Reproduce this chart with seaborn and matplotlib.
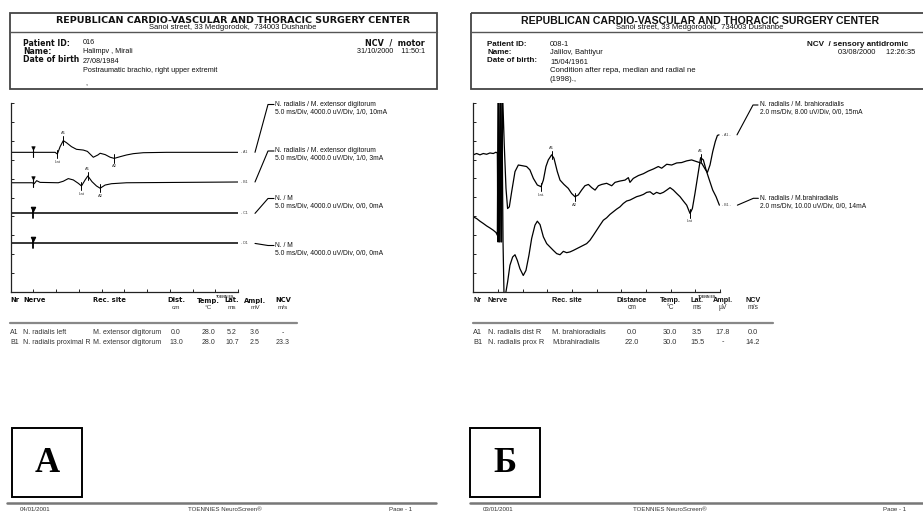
import numpy as np
import matplotlib
matplotlib.use("Agg")
from matplotlib import pyplot as plt
from matplotlib.patches import Rectangle
import seaborn as sns

# ---------------- Panel A: motor NCV (5 ms/Div), amplitude in screen divisions
a_a1_ms = [0, 9.8, 10.3, 10.9, 11.6, 12.3, 13.4, 14.5, 16.0, 16.9, 18.2, 19.2, 19.7,
           20.8, 21.9, 22.8, 24.1, 25.5, 27.0, 29.2, 34.3, 50]
a_a1_dv = [7.39, 7.39, 7.30, 7.69, 8.01, 7.90, 7.69, 7.55, 7.51, 7.44, 7.13, 7.25, 7.34,
           7.27, 7.13, 7.07, 7.16, 7.25, 7.32, 7.37, 7.39, 7.39]
a_b1_ms = [0, 4.8, 5.2, 5.75, 6.5, 10.5, 11.6, 12.7, 13.8, 14.9, 15.6, 16.4, 17.0, 17.9,
           18.9, 19.7, 20.8, 22.2, 25.5, 50]
a_b1_dv = [5.78, 5.78, 5.73, 5.89, 5.80, 5.78, 5.86, 6.0, 5.93, 5.75, 5.61, 5.93, 6.14, 5.84,
           5.61, 5.49, 5.66, 5.73, 5.78, 5.82]
a_c1_ms = [0, 50]
a_c1_dv = [4.16, 4.16]
a_d1_ms = [0, 50]
a_d1_dv = [2.57, 2.57]
a_stim_ms = 5.0
a_mark_ms = [10.3, 11.6, 22.8, 15.6, 17.0, 19.7]
a_mark_dv = [7.30, 8.01, 7.07, 5.61, 6.14, 5.49]
a_mark_lbl = ["Lat", "A1", "A2", "Lat", "A1", "A2"]
a_names = ["A1", "B1", "C1", "D1"]
a_info1 = ["N. radialis / M. extensor digitorum", "N. radialis / M. extensor digitorum",
           "N. / M", "N. / M"]
a_info2 = ["5.0 ms/Div, 4000.0 uV/Div, 1/0, 10mA", "5.0 ms/Div, 4000.0 uV/Div, 1/0, 3mA",
           "5.0 ms/Div, 4000.0 uV/Div, 0/0, 0mA", "5.0 ms/Div, 4000.0 uV/Div, 0/0, 0mA"]
a_cols = ["Nr", "Nerve", "Rec. site", "Dist.", "Temp.", "Lat.", "Ampl.", "NCV"]
a_units = ["", "", "", "cm", "°C", "ms", "mV", "m/s"]
a_rows = [["A1", "N. radialis left", "M. extensor digitorum", "0.0", "28.0", "5.2", "3.6", "-"],
          ["B1", "N. radialis proximal R", "M. extensor digitorum", "13.0", "28.0", "10.7", "2.5", "23.3"]]

# ---------------- Panel B: sensory antidromic NCV (2 ms/Div)
b_a1_ms = [0, 0.27, 0.54, 0.81, 1.08, 1.35, 1.62, 1.84, 1.95, 2.0, 2.05, 2.14, 2.22, 2.30, 2.38,
           2.51, 2.65, 2.78, 2.92, 3.11, 3.38, 3.65, 3.92, 4.32, 4.59, 4.87, 5.19, 5.49, 5.68,
           5.89, 6.08, 6.35, 6.54, 6.81, 7.03, 7.35, 7.70, 7.97, 8.24, 8.51, 8.78, 9.05, 9.33,
           9.6, 9.87, 10.14, 10.41, 10.81, 11.22, 11.49, 11.89, 12.3, 12.57, 12.7, 12.97, 13.38,
           13.79, 14.19, 14.6, 15.0, 15.27, 15.68, 16.08, 16.49, 16.89, 17.3, 17.7, 18.11, 18.52,
           18.79, 18.98, 19.19, 19.41, 19.62, 19.79, 19.92]
b_a1_dv = [7.25, 7.32, 7.25, 7.32, 7.28, 7.35, 7.32, 7.39, 7.34, 2.63, 10.4, 2.63, 10.4, 2.63, 10.4,
           7.78, 5.47, 4.40, 4.49, 5.29, 6.36, 6.71, 6.68, 6.63, 6.45, 6.0, 5.65, 5.56, 5.91,
           6.63, 6.98, 7.25, 7.07, 6.36, 5.91, 5.68, 5.47, 5.20, 5.03, 5.12, 5.38, 5.61, 5.68,
           5.51, 5.38, 5.61, 5.68, 5.74, 5.61, 5.79, 5.86, 5.91, 6.04, 5.79, 6.0, 6.15,
           6.25, 6.39, 6.50, 6.63, 6.54, 6.75, 6.71, 6.82, 6.84, 6.93, 6.98, 6.89, 6.80,
           6.50, 6.32, 6.71, 7.42, 7.96, 8.28, 8.31]
b_b1_ms = [0, 0.27, 0.54, 0.81, 1.08, 1.35, 1.62, 1.84, 1.95, 2.0, 2.08, 2.16, 2.24, 2.32, 2.41,
           2.49, 2.62, 2.78, 2.97, 3.19, 3.38, 3.57, 3.78, 4.05, 4.27, 4.51, 4.73, 5.0, 5.19,
           5.41, 5.68, 5.95, 6.22, 6.49, 6.76, 7.03, 7.30, 7.57, 7.84, 8.11, 8.38, 8.65, 8.92,
           9.19, 9.46, 9.73, 10.0, 10.27, 10.54, 10.81, 11.08, 11.35, 11.62, 11.89, 12.16, 12.43,
           12.7, 12.97, 13.24, 13.51, 13.79, 14.06, 14.33, 14.6, 14.86, 15.14, 15.41, 15.68,
           15.95, 16.22, 16.49, 16.76, 17.03, 17.3, 17.57, 17.76, 17.97, 18.25, 18.43, 18.65,
           18.87, 19.14, 19.41, 19.68, 19.95]
b_b1_dv = [3.96, 3.87, 3.73, 3.61, 3.48, 3.37, 3.25, 3.13, 2.98, 10.1, 2.63, 10.1, 2.63, 10.1, 2.63,
           -0.2, -0.12, 0.50, 1.39, 1.83, 1.95, 1.65, 1.21, 0.85, 1.12, 1.92, 2.81, 3.52, 3.73,
           3.55, 2.90, 2.54, 2.36, 2.18, 2.01, 1.95, 2.13, 2.06, 2.10, 2.18, 2.27, 2.36, 2.45,
           2.54, 2.72, 2.98, 3.25, 3.52, 3.78, 3.91, 4.09, 4.23, 4.37, 4.49, 4.67, 4.80,
           4.85, 4.94, 5.03, 5.08, 5.15, 5.26, 5.29, 5.15, 5.26, 5.19, 5.26, 5.38,
           5.51, 5.38, 5.20, 5.03, 4.80, 4.58, 4.14, 4.40, 5.20, 6.36, 7.10, 6.98,
           6.45, 5.91, 5.38, 5.03, 4.58]
b_mark_ms = [5.49, 6.35, 8.24, 17.57, 18.43]
b_mark_dv = [5.56, 7.25, 5.03, 4.14, 7.10]
b_mark_lbl = ["Lat.", "A1", "A2", "Lat", "A1"]
b_names = ["A1", "B1"]
b_info1 = ["N. radialis / M. brahioradialis", "N. radialis / M.brahiradialis"]
b_info2 = ["2.0 ms/Div, 8.00 uV/Div, 0/0, 15mA", "2.0 ms/Div, 10.00 uV/Div, 0/0, 14mA"]
b_cols = ["Nr", "Nerve", "Rec. site", "Distance", "Temp.", "Lat.", "Ampl.", "NCV"]
b_units = ["", "", "", "cm", "°C", "ms", "µV", "m/s"]
b_rows = [["A1", "N. radialis dist R", "M. brahioradialis", "0.0", "30.0", "3.5", "17.8", "0.0"],
          ["B1", "N. radialis prox R", "M.brahiradialis", "22.0", "30.0", "15.5", "-", "14.2"]]

sns.set_style("white")
plt.rcParams["font.family"] = ["Liberation Sans", "DejaVu Sans"]

W, H = 923, 511
fig = plt.figure(figsize=(W / 100, H / 100), dpi=100)
ov = fig.add_axes([0, 0, 1, 1], zorder=0)
ov.set_xlim(0, W)
ov.set_ylim(H, 0)
ov.axis("off")
ov.patch.set_alpha(0)

SP = ["DejaVu Sans"]  # wider bold face for the letter-spaced report A


def txt(x, y, s, size=5.0, bold=False, ha="left", fam=None, color="#111"):
    ov.text(x, y, s, fontsize=size, fontweight="bold" if bold else "normal", ha=ha,
            va="center", color=color, family=fam if fam else ["Liberation Sans", "DejaVu Sans"])


def trace_axes(left, right, top, bottom, xmax, step):
    ax = fig.add_axes([left / W, 1 - bottom / H, (right - left) / W, (bottom - top) / H], zorder=2)
    ax.patch.set_alpha(0)
    ax.set_xlim(0, xmax)
    ax.set_ylim(0, 10)
    ax.set_xticks(np.arange(0, xmax + 0.01, step))
    ax.set_yticks(np.arange(0, 11, 1))
    ax.tick_params(direction="in", length=2.2, width=0.7, labelbottom=False, labelleft=False,
                   bottom=True, left=True, colors="#222")
    sns.despine(ax=ax)
    for s in ["left", "bottom"]:
        ax.spines[s].set_linewidth(0.9)
        ax.spines[s].set_color("#222")
    return ax


def to_ov(ax, x, y):
    px, py = ax.transData.transform((x, y))
    return px, H - py


def marks(ax, ms, dv, lbl):
    for t, v, l in zip(ms, dv, lbl):
        ax.plot([t, t], [v - 0.22, v + 0.22], color="black", lw=0.7)
        up = l == "A1"
        ax.text(t, v + (0.38 if up else -0.42), l, fontsize=3, ha="center", va="center",
                color="#333")


def table(xs, cols, units, rows, line_x0, line_x1, fam, hsize, bsize):
    for i, (x, c, u) in enumerate(zip(xs, cols, units)):
        ha = "left" if i < 3 else "center"
        txt(x, 300.5, c, size=hsize, bold=True, ha=ha, fam=fam)
        if u:
            txt(x, 307.5, u, size=bsize - 0.4, ha=ha, color="#333")
    ov.plot([line_x0, line_x1], [323, 323], color="#888", lw=1.6)
    for r, y in zip(rows, [333, 342]):
        for i, (x, v) in enumerate(zip(xs, r)):
            txt(x, y, v, size=bsize, ha="left" if i < 3 else "center", color="#333")


# ---------------- headers
for x0, x1, cx, fam, tsize in [(10, 437, 233, SP, 6.8), (471, 940, 700, None, 7.6)]:
    ov.add_patch(Rectangle((x0, 13), x1 - x0, 76, fill=False, ec="#444", lw=1.3))
    ov.plot([x0, x1], [32.5, 32.5], color="#555", lw=1.0)
    txt(cx, 20.5, "REPUBLICAN CARDIO-VASCULAR AND THORACIC SURGERY CENTER", size=tsize,
        bold=True, ha="center", fam=fam)

txt(233, 27.8, "Sanoi street, 33 Medgorodok,  734003 Dushanbe", size=5.5, ha="center")
txt(23, 43, "Patient ID:", size=5.6, bold=True, fam=SP)
txt(23, 51, "Name:", size=5.6, bold=True, fam=SP)
txt(23, 60, "Date of birth", size=5.6, bold=True, fam=SP)
txt(83, 43, "016", size=5.2)
txt(83, 51.5, "Halimpv , Mirali", size=5.2)
txt(83, 61.5, "27/08/1984", size=5.2)
txt(83, 70.5, "Postraumatic brachio, right upper extremit", size=5.2)
txt(85, 84, ",", size=5.2)
txt(425, 43, "NCV  /  motor", size=5.8, bold=True, ha="right", fam=SP)
txt(425, 51.5, "31/10/2000    11:50:1", size=5.2, ha="right")

txt(700, 27.8, "Sanoi street, 33 Medgorodok,  734003 Dushanbe", size=5.5, ha="center")
txt(487, 45, "Patient ID:", size=5.8, bold=True)
txt(487, 53, "Name:", size=5.8, bold=True)
txt(487, 61, "Date of birth:", size=5.8, bold=True)
txt(550, 45, "008-1", size=5.4)
txt(550, 53, "Jalilov, Bahtiyur", size=5.4)
txt(550, 62.5, "15/04/1961", size=5.4)
txt(550, 71, "Condition after repa, median and radial ne", size=5.6)
txt(550, 79.5, "(1998).,", size=5.6)
txt(807, 45, "NCV  / sensory antidromic", size=5.9, bold=True)
txt(838, 53, "03/08/2000     12:26:35", size=5.4)

# ---------------- panel A traces
axA = trace_axes(10.5, 238, 103, 292, 50, 5)
for ms, dv, lw in [(a_a1_ms, a_a1_dv, 0.8), (a_b1_ms, a_b1_dv, 0.8),
                   (a_c1_ms, a_c1_dv, 1.1), (a_d1_ms, a_d1_dv, 1.1)]:
    sns.lineplot(x=ms, y=dv, ax=axA, sort=False, estimator=None, color="black", lw=lw)
for i, v in enumerate([a_a1_dv[0], a_b1_dv[0], a_c1_dv[0], a_d1_dv[0]]):
    heavy = i >= 2
    axA.plot([a_stim_ms, a_stim_ms], [v - 0.25, v + 0.22], color="black", lw=1.3 if heavy else 0.8)
    axA.plot([a_stim_ms], [v + 0.24], marker="v", ms=3.2 if heavy else 2.6, color="black",
             mec="black", mew=0.8 if heavy else 0.4)
marks(axA, a_mark_ms, a_mark_dv, a_mark_lbl)
txt(225, 296.5, "TOENNIES", size=2.6, bold=True, ha="center", color="#333")

for name, ms, dv, l1, l2, ty in zip(a_names, [a_a1_ms, a_b1_ms, a_c1_ms, a_d1_ms],
                                    [a_a1_dv, a_b1_dv, a_c1_dv, a_d1_dv], a_info1, a_info2,
                                    [104.5, 151, 198.5, 245.5]):
    ex, ey = to_ov(axA, ms[-1], dv[-1])
    txt(ex + 2.5, ey, "- " + name, size=2.6, color="#333")
    ov.plot([ex + 17, ex + 30, ex + 36], [ey, ty, ty], color="black", lw=0.8)
    txt(275, ty, l1, size=4.9)
    txt(275, ty + 7, l2, size=4.9)

table([10, 23, 93, 176, 208, 232, 255, 283], a_cols, a_units, a_rows, 10, 297, SP, 4.9, 5.0)

# ---------------- panel B traces
axB = trace_axes(473.3, 720, 103, 291.5, 20, 2)
for ms, dv in [(b_a1_ms, b_a1_dv), (b_b1_ms, b_b1_dv)]:
    sns.lineplot(x=ms, y=dv, ax=axB, sort=False, estimator=None, color="black", lw=0.9)
marks(axB, b_mark_ms, b_mark_dv, b_mark_lbl)
txt(707, 296.5, "TOENNIES", size=2.6, bold=True, ha="center", color="#333")

for name, ms, dv, l1, l2, ty in zip(b_names, [b_a1_ms, b_b1_ms], [b_a1_dv, b_b1_dv],
                                    b_info1, b_info2, [105, 198.3]):
    ex, ey = to_ov(axB, ms[-1], dv[-1])
    txt(ex + 3, ey, "- " + name + " -", size=2.6, color="#333")
    ov.plot([ex + 18, ex + 34, ex + 39], [ey, ty, ty], color="black", lw=0.8)
    txt(760, ty, l1, size=4.8)
    txt(760, ty + 7, l2, size=4.8)

table([473, 488, 552, 632, 670, 697, 723, 753], b_cols, b_units, b_rows, 473, 773, None, 5.2, 5.3)

# ---------------- panel letters and footers
for x0, letter in [(12, "А"), (470, "Б")]:
    ov.add_patch(Rectangle((x0, 428), 70, 69, fill=False, ec="black", lw=1.4))
    ov.text(x0 + 35, 464, letter, fontsize=25, fontweight="bold", ha="center", va="center",
            family=["Liberation Serif", "DejaVu Serif"], color="black")

for x0, x1, d, cx, px in [(7, 436, "04/01/2001", 225, 389), (470, 930, "03/01/2001", 670, 883)]:
    ov.plot([x0, x1], [503.5, 503.5], color="#777", lw=1.8)
    txt(x0 + 13, 509.5, d, size=4.4, color="#333")
    txt(cx, 509.5, "TOENNIES NeuroScreen®", size=4.4, ha="center", color="#333")
    txt(px, 509.5, "Page - 1", size=4.4, color="#333")

fig.savefig("out.png", dpi=100)
